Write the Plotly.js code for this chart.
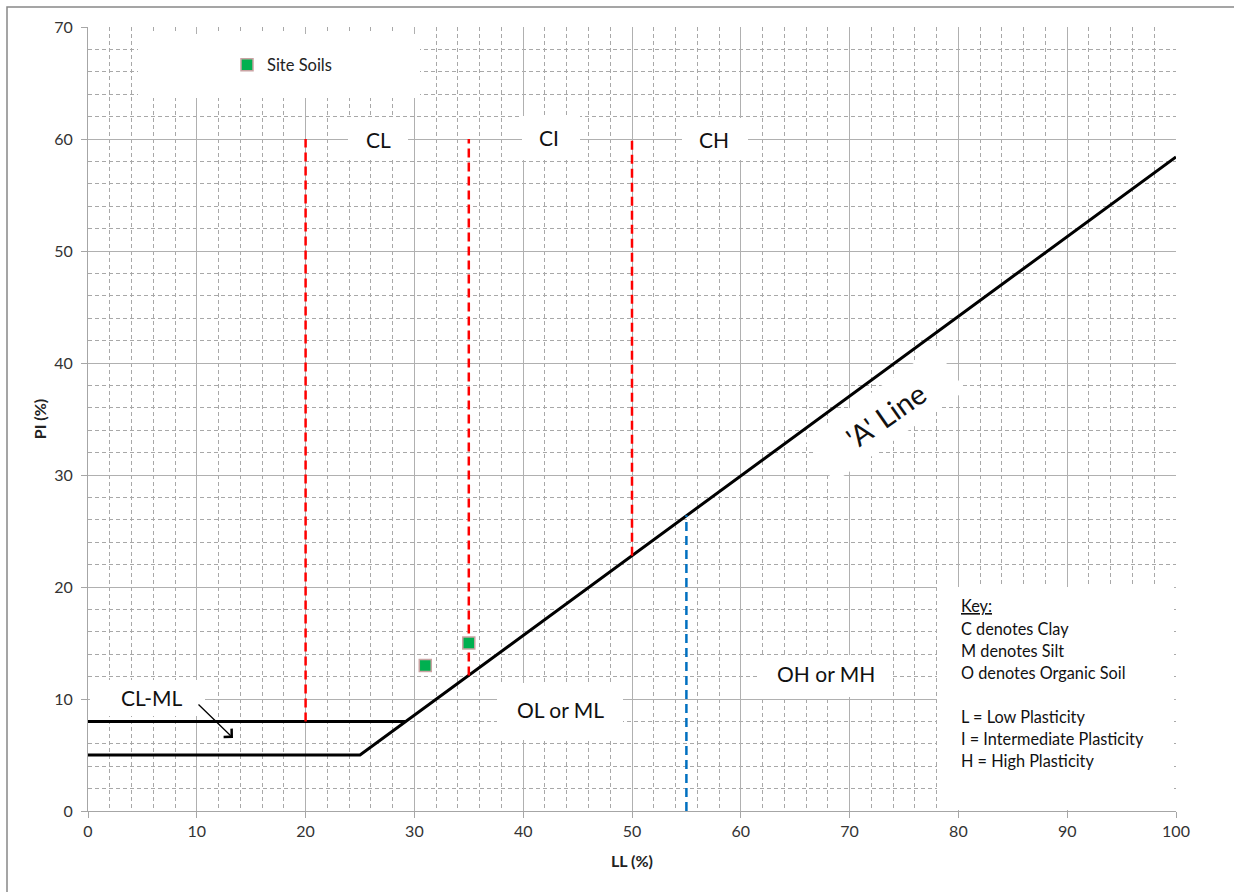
<!DOCTYPE html>
<html>
<head>
<meta charset="utf-8">
<script src="https://cdn.plot.ly/plotly-3.0.1.min.js"></script>
<style>html,body{margin:0;padding:0;background:#fff;}#chart{width:1234px;height:892px;}</style>
</head>
<body>
<div id="chart"></div>
<script>
// ---- data ----
const siteLL = [31, 35];
const sitePI = [13, 15];
const aLineLL = [0, 25, 100];
const aLinePI = [5, 5, 58.4];
const clmlLL = [0, 29.2];
const clmlPI = [8, 8];
const divLL = [20, 35, 50];
const divLow = [8, 12.1, 22.8];
const divHigh = [60, 60, 60];
const ohLL = [55, 55];
const ohPI = [0, 26.4];
const xTicks = [0,10,20,30,40,50,60,70,80,90,100];
const yTicks = [0,10,20,30,40,50,60,70];

// ---- pixel helpers (plot area: x 88..1176, y 27..811) ----
const L = 88, R = 1176, T = 27, B = 811;
const px2x = p => (p - L) / (R - L) * 100;
const py2y = p => (B - p) / (B - T) * 70;

const traces = [];
traces.push({x: aLineLL, y: aLinePI, mode: 'lines', line: {color: '#000', width: 3}, showlegend: false, hoverinfo: 'skip'});
traces.push({x: clmlLL, y: clmlPI, mode: 'lines', line: {color: '#000', width: 3}, showlegend: false, hoverinfo: 'skip'});
divLL.forEach((v, i) => {
  traces.push({x: [v, v], y: [divLow[i], divHigh[i]], mode: 'lines', line: {color: '#FF0000', width: 2.5, dash: '9px,5px'}, showlegend: false, hoverinfo: 'skip'});
});
traces.push({x: ohLL, y: ohPI, mode: 'lines', line: {color: '#0070C0', width: 2.5, dash: '9px,5px'}, showlegend: false, hoverinfo: 'skip'});
traces.push({x: siteLL, y: sitePI, mode: 'markers', name: 'Site Soils',
  marker: {symbol: 'square', size: 12, color: '#00B050', line: {color: '#C9A3A3', width: 1.5}}});

// white boxes (px: x0, y0, x1, y1)
const boxes = [
  [138, 34, 420, 98],
  [348, 118, 408, 160],
  [522, 116, 580, 160],
  [682, 118, 748, 160],
  [90, 680, 205, 716],
  [497, 683, 623, 740],
  [760, 655, 893, 697],
  [937, 587, 1174, 810]
];
const shapes = boxes.map(b => ({type: 'rect', layer: 'between', xref: 'x', yref: 'y',
  x0: px2x(b[0]), x1: px2x(b[2]), y0: py2y(b[3]), y1: py2y(b[1]),
  fillcolor: '#fff', line: {width: 0}}));
// rotated box for 'A' Line
(function(){
  const cx = 885, cy = 415, w = 160, h = 52, a = -35 * Math.PI / 180;
  const pts = [[-w/2,-h/2],[w/2,-h/2],[w/2,h/2],[-w/2,h/2]].map(([u,v]) => {
    const X = cx + u*Math.cos(a) - v*Math.sin(a);
    const Y = cy + u*Math.sin(a) + v*Math.cos(a);
    return px2x(X).toFixed(3) + ',' + py2y(Y).toFixed(3);
  });
  shapes.push({type: 'path', layer: 'between', xref: 'x', yref: 'y',
    path: 'M' + pts.join('L') + 'Z', fillcolor: '#fff', line: {width: 0}});
})();
// outer frame
shapes.push({type: 'rect', xref: 'paper', yref: 'paper', layer: 'above',
  x0: (7 - L) / (R - L), x1: 1.2, y0: -0.3, y1: (B - 7) / (B - T),
  fillcolor: 'rgba(0,0,0,0)', line: {color: '#888', width: 1.5}});

const font = 'Lato, "Open Sans", sans-serif';
const labels = [
  ['CL', 378, 139, 21], ['CI', 549, 137, 21], ['CH', 714, 139, 21],
  ['CL-ML', 152, 697, 21], ['OL or ML', 560, 709, 21], ['OH or MH', 826, 673, 21]
];
const annotations = labels.map(l => ({text: l[0], x: px2x(l[1]), y: py2y(l[2]), xref: 'x', yref: 'y',
  showarrow: false, font: {family: font, size: l[3], color: '#111'}}));
annotations.push({text: "'A' Line", x: px2x(885), y: py2y(415), xref: 'x', yref: 'y', showarrow: false,
  textangle: -35, font: {family: font, size: 29, color: '#111'}});
const keyLines = [['<u>Key:</u>', 605], ['C denotes Clay', 628], ['M denotes Silt', 650], ['O denotes Organic Soil', 672],
  ['L = Low Plasticity', 716], ['I = Intermediate Plasticity', 738], ['H = High Plasticity', 760]];
keyLines.forEach(k => annotations.push({text: k[0], x: px2x(959), y: py2y(k[1]), xref: 'x', yref: 'y',
  xanchor: 'left', showarrow: false, font: {family: font, size: 16.3, color: '#111'}}));
annotations.push({text: '', x: px2x(233), y: py2y(738), ax: px2x(197), ay: py2y(703), axref: 'x', ayref: 'y',
  xref: 'x', yref: 'y', showarrow: true, arrowhead: 4, arrowsize: 1.7, arrowwidth: 1.3, arrowcolor: '#000', standoff: 0, startstandoff: 0});

const axisCommon = {
  showgrid: true, gridcolor: '#b0b0b0', gridwidth: 1, zeroline: false,
  showline: true, linecolor: '#a6a6a6', linewidth: 1,
  ticks: 'outside', ticklen: 6, tickcolor: '#a6a6a6',
  tickfont: {family: font, size: 16, color: '#333'},
  minor: {showgrid: true, gridcolor: '#a8a8a8', griddash: '4px,3px', gridwidth: 1}
};

const layout = {
  width: 1234, height: 892,
  margin: {l: L, r: 1234 - R, t: T, b: 892 - B},
  paper_bgcolor: '#fff', plot_bgcolor: '#fff',
  font: {family: font},
  xaxis: Object.assign({}, axisCommon, {range: [0, 100], tickvals: xTicks, ticktext: xTicks.map(String),
    minor: Object.assign({}, axisCommon.minor, {dtick: 2, tick0: 0}),
    title: {text: '<b>LL (%)</b>', font: {family: font, size: 16, color: '#222'}, standoff: 16}}),
  yaxis: Object.assign({}, axisCommon, {range: [0, 70], tickvals: yTicks, ticktext: yTicks.map(String),
    minor: Object.assign({}, axisCommon.minor, {dtick: 2, tick0: 0}),
    ticklabelstandoff: 5,
    title: {text: '<b>PI (%)</b>', font: {family: font, size: 16, color: '#222'}, standoff: 3}}),
  showlegend: true,
  legend: {x: (227 - L) / (R - L), y: (B - 65) / (B - T), xanchor: 'left', yanchor: 'middle',
    bgcolor: 'rgba(0,0,0,0)', font: {family: font, size: 16.5, color: '#222'}},
  shapes: shapes,
  annotations: annotations
};

Plotly.newPlot('chart', traces, layout, {displayModeBar: false, staticPlot: true});
</script>
</body>
</html>
